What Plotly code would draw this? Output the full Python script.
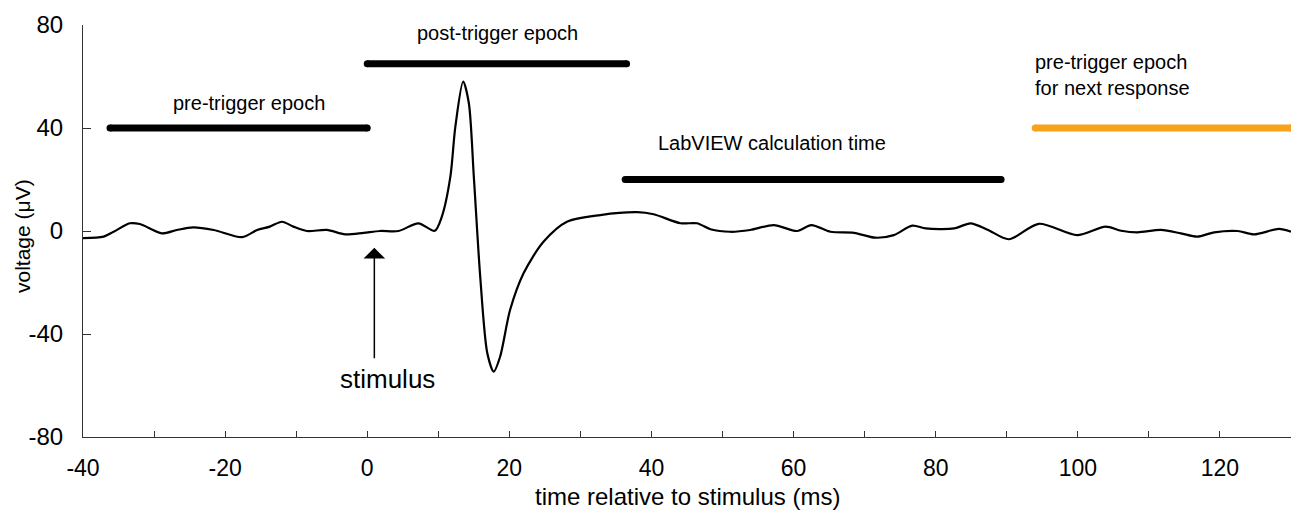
import plotly.graph_objects as go

# Trace values
time_ms = [-40, -37.1, -35.7, -33.4, -32.0, -28.9, -26.8, -24.5, -21.6, -17.6, -15.5, -13.7, -12.0,
           -10.4, -8.5, -5.7, -3.1, -0.5, 1.8, 4.4, 7.2, 9.5, 10.5, 11.7, 12.4, 13.5, 14.3, 15.0,
           15.9, 16.9, 17.8, 18.7, 20.1, 22.0, 24.8, 28.1, 32.8, 38.0, 40.3, 44.1, 46.4, 48.3,
           51.1, 53.9, 57.2, 60.5, 62.5, 65.2, 68.5, 71.5, 74.1, 76.7, 78.6, 82.6, 84.9, 87.3,
           90.3, 94.5, 99.9, 103.9, 106.1, 108.4, 111.7, 114.5, 116.8, 119.2, 122.5, 124.8,
           128.3, 130]
voltage_uv = [-2.8, -2.2, -0.3, 3.0, 2.7, -0.9, 0.4, 1.4, 0.4, -2.4, 0.4, 1.7, 3.6,
              1.7, 0.0, 0.4, -1.3, -0.7, 0.0, 0.0, 3.0, 0.1, 5.6, 21.1, 40.5, 58.0, 49.6, 21.1,
              -17.7, -47.5, -54.6, -48.8, -30.7, -16.4, -4.2, 3.6, 6.2, 7.3, 6.5, 3.0, 3.0, 0.7,
              -0.3, 0.4, 2.3, 0.0, 2.3, -0.3, -0.7, -2.6, -1.6, 2.1, 1.0, 1.0, 3.0, 0.5,
              -3.2, 2.8, -1.6, 1.7, 0.1, -0.5, 0.4, -0.9, -2.2, -0.5, 0.0, -1.3,
              0.8, -0.3]

# Epoch bars: (start, end, level, colour)
epoch_names = ["pre-trigger epoch", "post-trigger epoch", "LabVIEW calculation time",
               "pre-trigger epoch<br>for next response"]
epoch_start = [-36.2, 0, 36.3, 94]
epoch_end = [0, 36.5, 89.2, 130]
epoch_level = [40, 65, 20, 40]
epoch_color = ["#000000", "#000000", "#000000", "#F7A21B"]
label_x = [-16.6, 18.3, 56.9, 93.7]
label_y = [49.6, 77.0, 34.0, 60.5]
label_anchor = ["center", "center", "center", "left"]

x_ticks = [-40, -20, 0, 20, 40, 60, 80, 100, 120]
x_tick_text = ["-40", "-20", "0", "20", "40", "60", "80", "100", "120"]
y_ticks = [-80, -40, 0, 40, 80]
y_tick_text = ["-80", "-40", "0", "40", "80"]

FONT = "Liberation Sans, Arial, sans-serif"

fig = go.Figure()

for s, e, lv, c in zip(epoch_start, epoch_end, epoch_level, epoch_color):
    fig.add_trace(go.Scatter(x=[s, e], y=[lv, lv], mode="lines",
                             line=dict(color=c, width=7), showlegend=False, hoverinfo="skip"))
    fig.add_trace(go.Scatter(x=[s, e], y=[lv, lv], mode="markers",
                             marker=dict(color=c, size=7, line=dict(width=0)),
                             showlegend=False, hoverinfo="skip"))

fig.add_trace(go.Scatter(x=time_ms, y=voltage_uv, mode="lines",
                         line=dict(color="black", width=2.2, shape="spline", smoothing=0.8),
                         showlegend=False))

for name, lx, ly, anc in zip(epoch_names, label_x, label_y, label_anchor):
    fig.add_annotation(x=lx, y=ly, text=name, showarrow=False, xanchor=anc,
                       yanchor="middle", align="left",
                       font=dict(family=FONT, size=20, color="black"))

# stimulus arrow
fig.add_annotation(x=1.0, y=-6.5, ax=1.0, ay=-50, xref="x", yref="y", axref="x", ayref="y",
                   text="", showarrow=True, arrowhead=1, arrowsize=2.4, arrowwidth=1.5,
                   arrowcolor="black")
fig.add_annotation(x=2.8, y=-57.3, text="stimulus", showarrow=False,
                   font=dict(family=FONT, size=26, color="black"))

fig.add_annotation(xref="paper", yref="paper", x=0, y=0.5, xshift=-61, yshift=-5,
                   xanchor="center", yanchor="middle",
                   text="voltage (μV)", textangle=-90, showarrow=False,
                   font=dict(family=FONT, size=21, color="black"))
fig.add_annotation(xref="paper", yref="paper", x=0.5, y=0, yshift=-59, xanchor="center",
                   yanchor="middle",
                   text="time relative to stimulus (ms)", showarrow=False,
                   font=dict(family=FONT, size=24, color="black"))

fig.update_layout(
    width=1291, height=515,
    margin=dict(l=75, r=8, t=17, b=86, autoexpand=False),
    plot_bgcolor="white", paper_bgcolor="white",
    font=dict(family=FONT, color="black"),
    xaxis=dict(range=[-40, 130], tickvals=x_ticks, ticktext=x_tick_text, ticks="inside",
               ticklen=6, tickcolor="#333", showline=True, linecolor="#333", linewidth=1,
               showgrid=False, zeroline=False, tickfont=dict(size=23), automargin=False,
               ticklabelstandoff=10,
               minor=dict(dtick=10, tick0=0, ticks="inside", ticklen=6, tickcolor="#333")),
    yaxis=dict(range=[-80, 80], tickvals=y_ticks, ticktext=y_tick_text, ticks="inside",
               ticklen=8, tickcolor="#333", showline=True, linecolor="#333", linewidth=1,
               showgrid=False, zeroline=False, tickfont=dict(size=24), automargin=False,
               ticklabelstandoff=14),
)

fig.write_html("out.html")
